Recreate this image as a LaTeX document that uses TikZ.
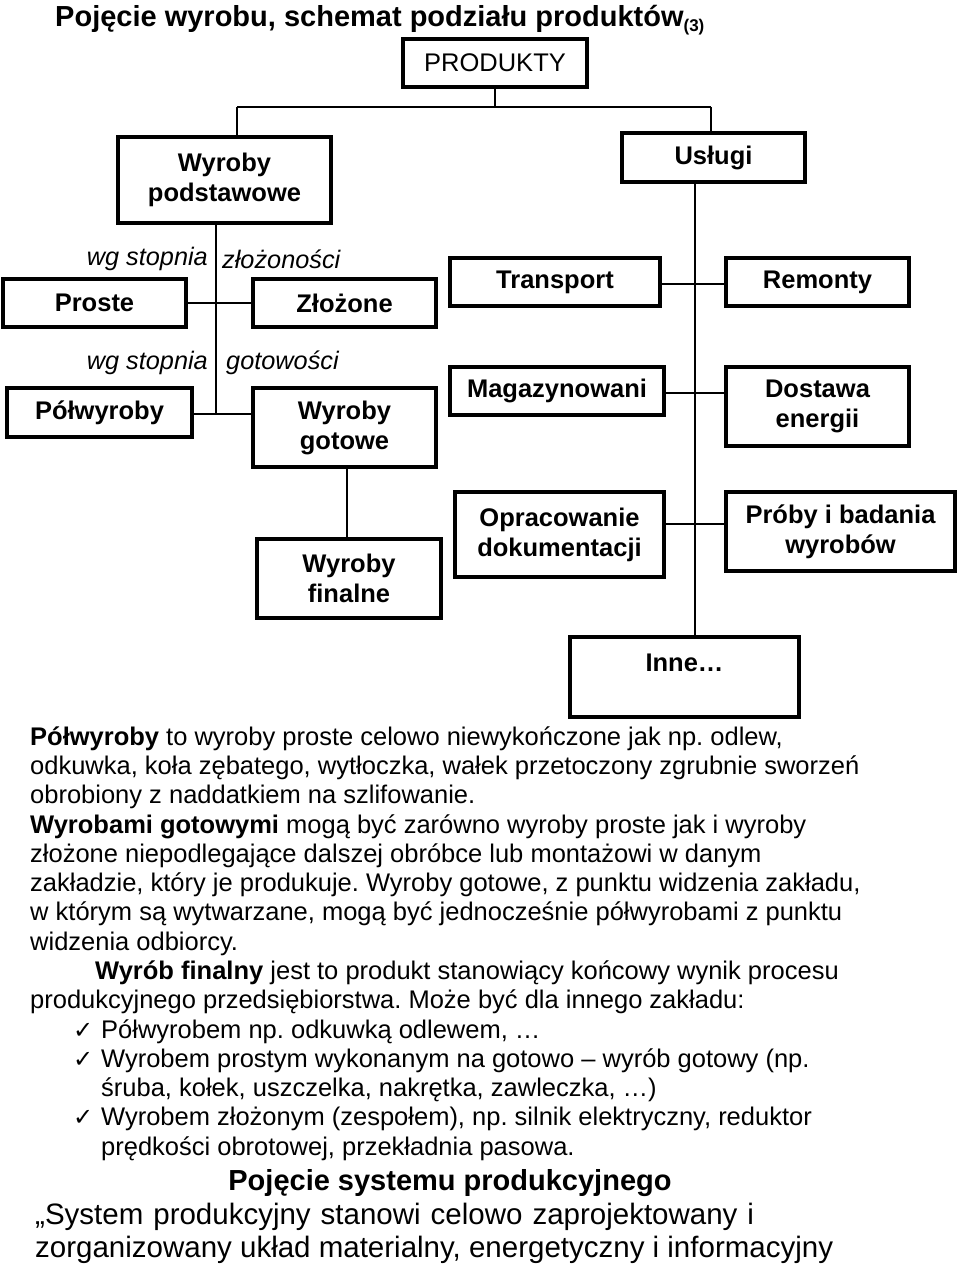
\documentclass[tikz,border=0pt]{standalone}
\usepackage{fontspec}
\setmainfont{Liberation Sans}
\newfontfamily\dejavu{DejaVu Sans}
\frenchspacing
\begin{document}
\begin{tikzpicture}[x=1pt,y=-1pt,
  box/.style={draw, line width=3.4pt, rectangle, inner sep=0pt, align=center,
    font=\fontsize{25.5}{30}\selectfont\bfseries},
  conn/.style={line width=2pt},
  txt/.style={anchor=base west, inner sep=0pt, font=\fontsize{25.5}{29}\selectfont},
  itl/.style={inner sep=0pt, font=\fontsize{25.3}{29}\selectfont\itshape},
  chk/.style={anchor=base west, inner sep=0pt, font=\fontsize{24}{26}\selectfont\dejavu}
]
\useasboundingbox (0,0) rectangle (960,1265);

% title
\node[anchor=base west, inner sep=0pt, font=\fontsize{29}{32}\selectfont\bfseries] (title) at (55,27)
  {Pojęcie wyrobu, schemat podziału produktów\raisebox{-5pt}{\fontsize{17}{17}\selectfont(3)}};

% boxes
\node[box, minimum width=184pt, minimum height=48pt, font=\fontsize{25.5}{30}\selectfont] (prod) at (495,63) {PRODUKTY};
\node[box, minimum width=213pt, minimum height=86pt] (wp) at (224.5,180) {Wyroby\\podstawowe};
\node[box, minimum width=183pt, minimum height=49pt] (usl) at (713.5,157.5) {Usługi};
\node[box, minimum width=183pt, minimum height=48pt] (proste) at (94.5,303) {Proste};
\node[box, minimum width=183pt, minimum height=48pt] (zloz) at (344.5,303) {Złożone};
\node[box, minimum width=210pt, minimum height=48pt] (trans) at (555,282) {Transport};
\node[box, minimum width=183pt, minimum height=48pt] (rem) at (817.5,282) {Remonty};
\node[box, minimum width=185pt, minimum height=49pt] (polw) at (99.5,412.5) {Półwyroby};
\node[box, minimum width=183pt, minimum height=79pt] (gotowe) at (344.5,427.5) {Wyroby\\gotowe};
\node[box, minimum width=214pt, minimum height=48pt] (mag) at (557,391) {Magazynowani};
\node[box, minimum width=183pt, minimum height=79pt] (dost) at (817.5,406.5) {Dostawa\\energii};
\node[box, minimum width=209pt, minimum height=85pt] (oprac) at (559.5,534.5) {Opracowanie\\dokumentacji};
\node[box, minimum width=229pt, minimum height=79pt] (proby) at (840.5,531.5) {Próby i badania\\wyrobów};
\node[box, minimum width=184pt, minimum height=79pt] (fin) at (349,578.5) {Wyroby\\finalne};
\node[box, minimum width=229pt, minimum height=80pt] (inne) at (684.5,677) {};
\node[inner sep=0pt, font=\fontsize{25.5}{30}\selectfont\bfseries] (innet) at (684.5,663) {Inne…};

% italic labels
\node[itl, anchor=east] (wg1) at (208,259) {wg stopnia};
\node[itl, anchor=west] (zl1) at (222,259) {złożoności};
\node[itl, anchor=east] (wg2) at (208,363) {wg stopnia};
\node[itl, anchor=west] (go2) at (226,363) {gotowości};

% connectors
\coordinate (bus) at (495,107);
\coordinate (busL) at (237,107);
\coordinate (busR) at (711,107);
\draw[conn] (prod.south) -- (bus);
\draw[conn] (busL) -- (busR);
\draw[conn] (busL) -- (busL |- wp.north);
\draw[conn] (busR) -- (busR |- usl.north);

\coordinate (lt) at (216,223);
\coordinate (lb) at (216,414);
\draw[conn] (lt) -- (lb);
\draw[conn] (proste.east) -- (zloz.west);
\draw[conn] (polw.east |- lb) -- (gotowe.west |- lb);
\coordinate (gf) at (347,0);
\draw[conn] (gf |- gotowe.south) -- (gf |- fin.north);

\coordinate (rt) at (695,0);
\draw[conn] (rt |- usl.south) -- (rt |- inne.north);
\coordinate (r1) at (0,284);
\coordinate (r2) at (0,393);
\coordinate (r3) at (0,524);
\draw[conn] (trans.east |- r1) -- (rem.west |- r1);
\draw[conn] (mag.east |- r2) -- (dost.west |- r2);
\draw[conn] (oprac.east |- r3) -- (proby.west |- r3);

% paragraph
\node[txt] (l1) at (30,745) {\textbf{Półwyroby} to wyroby proste celowo niewykończone jak np. odlew,};
\node[txt] (l2) at (30,774.3) {odkuwka, koła zębatego, wytłoczka, wałek przetoczony zgrubnie sworzeń};
\node[txt] (l3) at (30,803.6) {obrobiony z naddatkiem na szlifowanie.};
\node[txt] (l4) at (30,833) {\textbf{Wyrobami gotowymi} mogą być zarówno wyroby proste jak i wyroby};
\node[txt] (l5) at (30,862.2) {złożone niepodlegające dalszej obróbce lub montażowi w danym};
\node[txt] (l6) at (30,891.5) {zakładzie, który je produkuje. Wyroby gotowe, z punktu widzenia zakładu,};
\node[txt] (l7) at (30,920.8) {w którym są wytwarzane, mogą być jednocześnie półwyrobami z punktu};
\node[txt] (l8) at (30,950.1) {widzenia odbiorcy.};
\node[txt] (l9) at (95,979.4) {\textbf{Wyrób finalny} jest to produkt stanowiący końcowy wynik procesu};
\node[txt] (l10) at (30,1008.7) {produkcyjnego przedsiębiorstwa. Może być dla innego zakładu:};
\node[chk] (c1) at (73,1038) {✓};
\node[txt] (l11) at (101,1038) {Półwyrobem np. odkuwką odlewem, …};
\node[chk] (c2) at (73,1067.3) {✓};
\node[txt] (l12) at (101,1067.3) {Wyrobem prostym wykonanym na gotowo – wyrób gotowy (np.};
\node[txt] (l13) at (101,1096.6) {śruba, kołek, uszczelka, nakrętka, zawleczka, …)};
\node[chk] (c3) at (73,1125.9) {✓};
\node[txt] (l14) at (101,1125.9) {Wyrobem złożonym (zespołem), np. silnik elektryczny, reduktor};
\node[txt] (l15) at (101,1155.2) {prędkości obrotowej, przekładnia pasowa.};

\node[anchor=base, inner sep=0pt, font=\fontsize{29}{31}\selectfont\bfseries] (sys) at (450,1190) {Pojęcie systemu produkcyjnego};
\node[anchor=base west, inner sep=0pt, font=\fontsize{29.5}{31}\selectfont] (f1) at (35,1224) {\spaceskip=10pt „System produkcyjny stanowi celowo zaprojektowany i};
\node[anchor=base west, inner sep=0pt, font=\fontsize{29.5}{31}\selectfont] (f2) at (35,1257) {zorganizowany układ materialny, energetyczny i informacyjny};
\end{tikzpicture}
\end{document}
